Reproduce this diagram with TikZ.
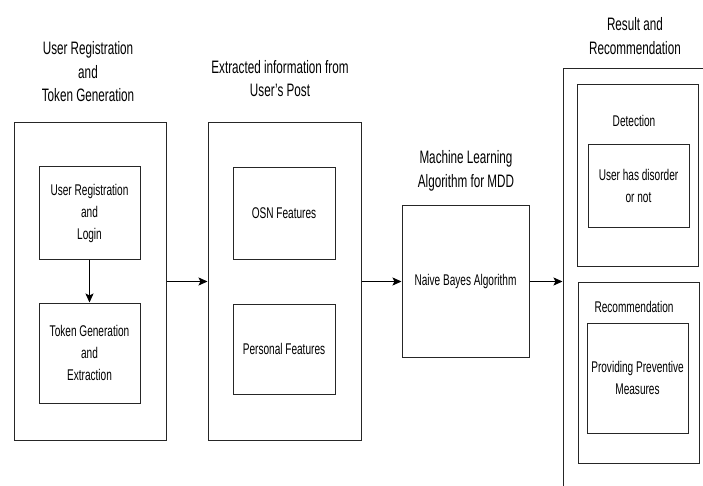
\documentclass[tikz,border=0pt]{standalone}
\usepackage{fontspec}
\setmainfont[FakeStretch=0.65]{Liberation Sans}
\usepackage{tikz}
\usetikzlibrary{arrows.meta, positioning}

\begin{document}
\begin{tikzpicture}[x=1pt, y=-1pt,
  box/.style={draw=black!85, line width=1pt, rectangle, inner sep=0pt},
  heading/.style={align=center, font=\fontsize{18}{23.5}\selectfont},
  txt/.style={align=center, font=\fontsize{15.5}{22}\selectfont},
  flow/.style={-{Stealth[length=9pt, width=8pt, inset=2pt]}, line width=1pt}]
\clip (0,0) rectangle (703,486);

% Registration
\node[heading] (regT) at (88,72) {User Registration\\and\\Token Generation};
\node[box, minimum width=152, minimum height=317] (reg) at (90,281.5) {};
\node[box, txt, minimum width=101, minimum height=92] (login) at (89.5,213) {User Registration\\and\\Login};
\node[box, txt, minimum width=101, minimum height=100] (token) at (89.5,353) {Token Generation\\and\\Extraction};
\draw[flow] (login) -- (token);

% Extraction
\node[heading] (postT) at (280,78.5) {Extracted information from\\User's Post};
\node[box, minimum width=153, minimum height=317] (post) at (284.5,281.5) {};
\node[box, txt, minimum width=102, minimum height=91] (osn) at (284,213.5) {OSN Features};
\node[box, txt, minimum width=102, minimum height=90] (pers) at (284,349) {Personal Features};

% Classifier
\node[heading] (nbT) at (466,171) {Machine Learning\\Algorithm for MDD};
\node[box, txt, minimum width=127, minimum height=151] (nb) at (465.5,281.5) {Naive Bayes Algorithm};

% Result
\node[heading] (resT) at (635,36) {Result and\\Recommendation};
\node[box, minimum width=160, minimum height=440] (res) at (643,289) {};
\node[box, minimum width=121, minimum height=181] (det) at (637.5,175.5) {};
\node[txt] (detT) at (634,121) {Detection};
\node[box, txt, minimum width=101, minimum height=82] (dis) at (638.5,186) {User has disorder\\or not};
\node[box, minimum width=121, minimum height=181] (rec) at (638.5,372.5) {};
\node[txt] (recT) at (634,307) {Recommendation};
\node[box, txt, minimum width=101, minimum height=110] (prev) at (637.5,378) {Providing Preventive\\Measures};

\draw[flow] (reg) -- (post);
\draw[flow] (post) -- (nb);
\draw[flow] (nb.east) -- (nb.east -| res.west);
\end{tikzpicture}
\end{document}
